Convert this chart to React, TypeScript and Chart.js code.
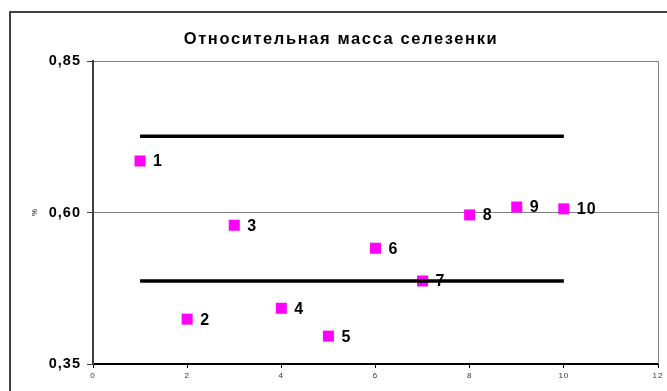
import React, { useEffect, useRef } from "react";
import { Chart, registerables } from "chart.js";

Chart.register(...registerables);

const TITLE = "Относительная масса селезенки";
const Y_TITLE = "%";
const pointX = [1, 2, 3, 4, 5, 6, 7, 8, 9, 10];
const pointY = [0.685, 0.424, 0.579, 0.442, 0.396, 0.541, 0.487, 0.596, 0.609, 0.606];
const pointLabels = ["1", "2", "3", "4", "5", "6", "7", "8", "9", "10"];
const upperLineX = [1, 10];
const upperLineY = [0.726, 0.726];
const lowerLineX = [1, 10];
const lowerLineY = [0.487, 0.487];
const xMin = 0;
const xMax = 12;
const xStep = 2;
const yMin = 0.35;
const yMax = 0.85;
const yStep = 0.25;

const decorPlugin = {
  id: "decor",
  beforeDraw(chart: any) {
    const ctx = chart.ctx;
    ctx.save();
    ctx.fillStyle = "#ffffff";
    ctx.fillRect(0, 0, chart.width, chart.height);
    // outer frame
    ctx.strokeStyle = "#404040";
    ctx.lineWidth = 2;
    ctx.beginPath();
    ctx.moveTo(10, chart.height);
    ctx.lineTo(10, 12);
    ctx.lineTo(chart.width, 12);
    ctx.stroke();
    ctx.restore();
    (ctx as any).letterSpacing = "1px";
  },
  afterDraw(chart: any) {
    const ctx = chart.ctx;
    const a = chart.chartArea;
    ctx.save();
    // plot area right border
    ctx.strokeStyle = "#808080";
    ctx.lineWidth = 1;
    ctx.beginPath();
    ctx.moveTo(a.right + 0.5, a.top);
    ctx.lineTo(a.right + 0.5, a.bottom);
    ctx.stroke();
    // title
    ctx.fillStyle = "#000";
    ctx.font = "bold 16.5px Arial, 'Liberation Sans', sans-serif";
    (ctx as any).letterSpacing = "1.6px";
    ctx.textAlign = "center";
    ctx.textBaseline = "alphabetic";
    ctx.fillText(TITLE, 341, 44);
    // y title
    (ctx as any).letterSpacing = "0px";
    ctx.textBaseline = "middle";
    ctx.font = "8px Arial, 'Liberation Sans', sans-serif";
    ctx.translate(35, a.top + (a.bottom - a.top) / 2);
    ctx.rotate(-Math.PI / 2);
    ctx.fillText(Y_TITLE, 0, 0);
    ctx.restore();
    // point labels
    const meta = chart.getDatasetMeta(2);
    ctx.save();
    ctx.fillStyle = "#000";
    (ctx as any).letterSpacing = "1px";
    ctx.font = "bold 16px Arial, 'Liberation Sans', sans-serif";
    ctx.textAlign = "left";
    ctx.textBaseline = "middle";
    meta.data.forEach((el: any, i: number) => {
      ctx.fillText(pointLabels[i], el.x + 13, el.y + 1);
    });
    ctx.restore();
  },
};

export default function App() {
  const ref = useRef<HTMLCanvasElement | null>(null);
  useEffect(() => {
    if (!ref.current) return;
    const chart = new Chart(ref.current, {
      type: "scatter",
      data: {
        datasets: [
          {
            type: "line",
            data: upperLineX.map((x, i) => ({ x, y: upperLineY[i] })),
            borderColor: "#000",
            borderWidth: 3.5,
            pointRadius: 0,
            showLine: true,
          } as any,
          {
            type: "line",
            data: lowerLineX.map((x, i) => ({ x, y: lowerLineY[i] })),
            borderColor: "#000",
            borderWidth: 3.5,
            pointRadius: 0,
            showLine: true,
          } as any,
          {
            data: pointX.map((x, i) => ({ x, y: pointY[i] })),
            pointStyle: "rect",
            pointRadius: 7.8,
            pointHoverRadius: 7.8,
            backgroundColor: "#ff00ff",
            borderColor: "#ff00ff",
            borderWidth: 0,
          } as any,
        ],
      },
      options: {
        animation: false,
        responsive: false,
        maintainAspectRatio: false,
        layout: { padding: { left: 0, top: 61, right: 9, bottom: 0 } },
        plugins: { legend: { display: false }, tooltip: { enabled: false }, title: { display: false } },
        scales: {
          x: {
            type: "linear",
            min: xMin,
            max: xMax,
            afterFit: (s: any) => { s.height = 27; },
            ticks: {
              stepSize: xStep,
              color: "#333",
              font: { family: "Arial, 'Liberation Sans', sans-serif", size: 8 },
              padding: 3,
              maxRotation: 0,
            },
            grid: { drawOnChartArea: false, drawTicks: true, tickLength: 4, color: "#000" },
            border: { color: "#000", width: 2 },
          },
          y: {
            type: "linear",
            min: yMin,
            max: yMax,
            afterFit: (s: any) => { s.width = 93; },
            ticks: {
              stepSize: yStep,
              color: "#000",
              font: { family: "Arial, 'Liberation Sans', sans-serif", size: 14.5, weight: "bold" },
              padding: 6,
              callback: (v: any) => Number(v).toFixed(2).replace(".", ","),
            },
            grid: { color: "#808080", lineWidth: 1, tickLength: 6, tickColor: "#404040" },
            border: { color: "#404040", width: 2 },
          },
        },
      } as any,
      plugins: [decorPlugin],
    });
    return () => chart.destroy();
  }, []);
  return (
    <div style={{ position: "absolute", left: 0, top: 0, width: 667, height: 391 }}>
      <canvas ref={ref} width={667} height={391} style={{ display: "block" }} />
    </div>
  );
}
